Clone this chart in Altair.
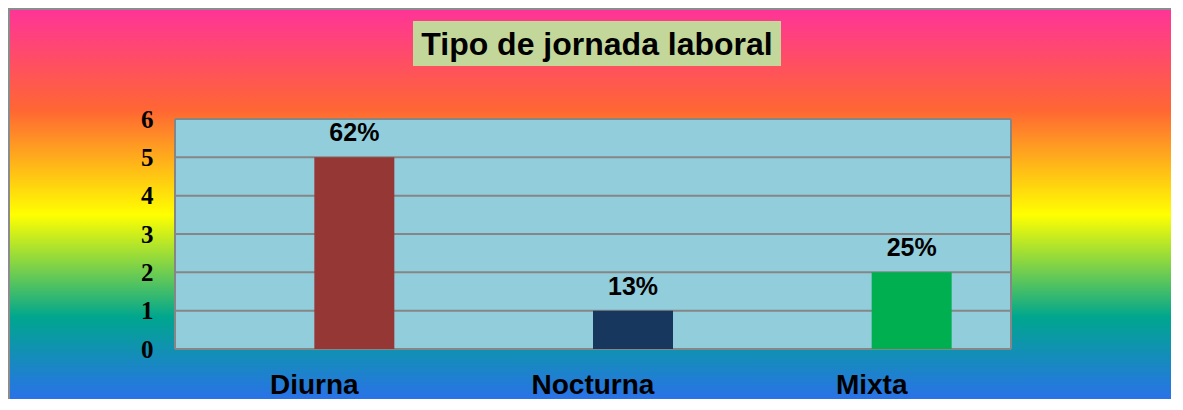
import altair as alt
import pandas as pd

# ---- data ----
categories = ["Diurna", "Nocturna", "Mixta"]
values = [5, 1, 2]
percent_labels = ["62%", "13%", "25%"]
bar_colors = ["#953735", "#17375E", "#00B050"]
y_ticks = [0, 1, 2, 3, 4, 5, 6]
title_text = "Tipo de jornada laboral"

# ---- layout (pixels) ----
W, H = 836, 230
PAD = {"left": 167, "top": 111, "right": 160, "bottom": 50}

df = pd.DataFrame({"cat": categories, "val": values, "pct": percent_labels})
grid_df = pd.DataFrame({"val": y_ticks})
one = pd.DataFrame({"a": [0]})

x_scale = alt.Scale(domain=categories, paddingInner=0, paddingOuter=0)
y_scale = alt.Scale(domain=[0, 6], nice=False)

y_axis = alt.Axis(title=None, values=y_ticks, labelFont="Liberation Serif",
                  labelFontSize=25, labelFontWeight="bold", labelColor="black",
                  labelPadding=22, ticks=False, tickSize=0, domain=False,
                  grid=False, zindex=1, format="d")
x_axis = alt.Axis(title=None, labelAngle=0, labelFont="Liberation Sans",
                  labelFontSize=28, labelFontWeight="bold", labelColor="black",
                  labelBaseline="alphabetic", labelPadding=44, ticks=False,
                  tickSize=0, domain=False, grid=False, zindex=1)

grad = alt.Gradient(
    gradient="linear",
    x1=0, x2=0, y1=0, y2=1,
    stops=[
        alt.GradientStop(color="#FF3399", offset=0),
        alt.GradientStop(color="#FF6633", offset=0.261),
        alt.GradientStop(color="#FFFF00", offset=0.529),
        alt.GradientStop(color="#00A68E", offset=0.79),
        alt.GradientStop(color="#2A72E8", offset=1),
    ],
)

background = alt.Chart(one).mark_rect(fill=grad).encode(
    x=alt.value(-PAD["left"]), x2=alt.value(W + PAD["right"]),
    y=alt.value(-PAD["top"]), y2=alt.value(H + PAD["bottom"]),
)

border_left = alt.Chart(one).mark_rule(color="#8C8C8C", strokeWidth=2).encode(
    x=alt.value(-PAD["left"] + 1), y=alt.value(-PAD["top"]), y2=alt.value(H + PAD["bottom"])
)
border_top = alt.Chart(one).mark_rule(color="#8C8C8C", strokeWidth=2).encode(
    y=alt.value(-PAD["top"] + 1), x=alt.value(-PAD["left"]), x2=alt.value(W + PAD["right"])
)

plot_bg = alt.Chart(one).mark_rect(fill="#92CDDC").encode(
    x=alt.value(0), x2=alt.value(W), y=alt.value(0), y2=alt.value(H)
)

grid = alt.Chart(grid_df).mark_rule(color="#868686", strokeWidth=2).encode(
    y=alt.Y("val:Q", scale=y_scale, axis=y_axis),
    x=alt.value(0), x2=alt.value(W),
)

plot_side = alt.Chart(one).mark_rule(color="#868686", strokeWidth=2).encode(
    x=alt.value(0), y=alt.value(0), y2=alt.value(H)
)
plot_side_r = alt.Chart(one).mark_rule(color="#868686", strokeWidth=2).encode(
    x=alt.value(W), y=alt.value(0), y2=alt.value(H)
)

bars = alt.Chart(df).mark_bar(width=80, xOffset=40).encode(
    x=alt.X("cat:N", scale=x_scale, sort=categories, axis=x_axis),
    y=alt.Y("val:Q", scale=y_scale, axis=y_axis),
    color=alt.Color("cat:N", scale=alt.Scale(domain=categories, range=bar_colors), legend=None),
)

labels = alt.Chart(df).mark_text(
    xOffset=40, dy=-16, baseline="alphabetic", font="Liberation Sans",
    fontSize=25, fontWeight="bold", color="black"
).encode(
    x=alt.X("cat:N", scale=x_scale, sort=categories, axis=x_axis),
    y=alt.Y("val:Q", scale=y_scale, axis=y_axis),
    text="pct:N",
)

title_box = alt.Chart(one).mark_rect(fill="#C4D79B").encode(
    x=alt.value(238), x2=alt.value(606), y=alt.value(-98), y2=alt.value(-53)
)
title = alt.Chart(pd.DataFrame({"t": [title_text]})).mark_text(
    font="Liberation Sans", fontSize=32, fontWeight="bold", color="black",
    align="center", baseline="alphabetic"
).encode(x=alt.value(422), y=alt.value(-64), text="t:N")

chart = alt.layer(
    background, border_left, border_top, plot_bg, grid, plot_side, plot_side_r,
    bars, labels, title_box, title
).properties(
    width=W, height=H, padding=PAD, autosize=alt.AutoSizeParams(type="none")
).configure_view(stroke=None).configure(background="white").configure_axisY(
    labelFontSize=25, labelFont="Liberation Serif", labelFontWeight="bold"
)

chart.save("out.html", embed_options={"renderer": "svg", "actions": False})
